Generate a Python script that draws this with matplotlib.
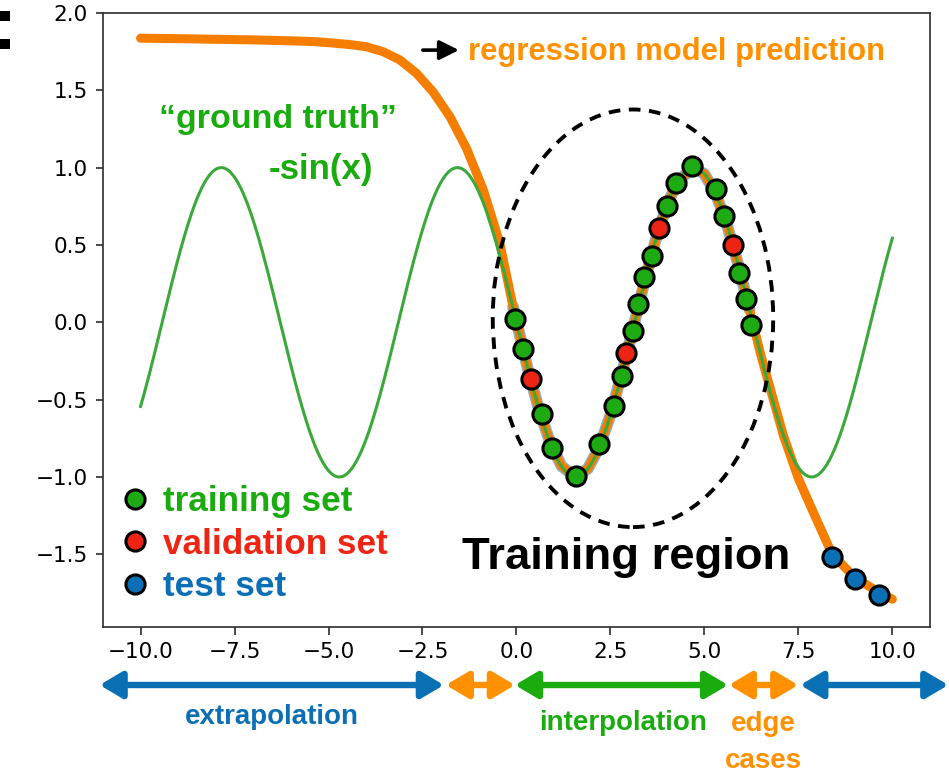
import numpy as np
import matplotlib.pyplot as plt
from matplotlib.lines import Line2D
from matplotlib.patches import Ellipse, Rectangle

# model prediction
pred_x = [-10.0, -9.0, -8.0, -7.0, -6.0, -5.4, -4.9, -4.4, -4.0, -3.55, -3.1, -2.66,
          -2.22, -1.77, -1.33, -0.88, -0.44, -0.09, 0.3, 0.6, 0.9, 1.2, 1.57, 1.9, 2.2,
          2.5, 2.8, 3.1, 3.4, 3.7, 4.0, 4.3, 4.71, 5.0, 5.3, 5.6, 5.9, 6.2, 6.5,
          6.8, 7.1, 7.5, 7.9, 8.4, 9.0, 9.6, 10.0]
pred_y = [1.837, 1.834, 1.830, 1.826, 1.820, 1.815, 1.806, 1.795, 1.782, 1.750, 1.696, 1.610,
          1.490, 1.330, 1.125, 0.855, 0.510, 0.100, -0.300, -0.565, -0.780, -0.930, -1.000, -0.946, -0.810,
          -0.600, -0.335, -0.040, 0.255, 0.530, 0.757, 0.916, 1.000, 0.959, 0.832, 0.631, 0.374, 0.083, -0.210,
          -0.470, -0.730, -1.010, -1.230, -1.500, -1.650, -1.740, -1.790]

# sampled points
train_x = [-0.04, 0.165, 0.67, 0.94, 1.58, 2.2, 2.6, 2.8, 3.09, 3.23, 3.40, 3.6,
           4.0, 4.25, 4.68, 5.31, 5.53, 5.93, 6.10, 6.25]
train_y = [0.02, -0.17, -0.595, -0.81, -0.994, -0.79, -0.54, -0.35, -0.056, 0.12, 0.29, 0.43,
           0.75, 0.90, 1.01, 0.86, 0.69, 0.32, 0.15, -0.015]
val_x = [0.378, 2.92, 3.79, 5.75]
val_y = [-0.364, -0.20, 0.61, 0.50]
test_x = [8.39, 9.01, 9.65]
test_y = [-1.516, -1.66, -1.76]

# ranges marked below the x axis
span_edges = [(-11.09, -1.93), (-1.88, -0.04), (-0.04, 5.63), (5.65, 7.50), (7.55, 11.49)]
span_colors = ['#0a70b4', '#ff9100', '#1aab0f', '#ff9100', '#0a70b4']

c_green = '#1aab0f'
c_red = '#ee2414'
c_blue = '#0b6fb5'
c_orange = '#ff9100'
bold = dict(family='Liberation Sans', weight='bold')

fig = plt.figure(figsize=(9.49, 7.73), dpi=100)
ax = fig.add_axes([0.1085, 0.1889, 0.8714, 0.7943])

# ground truth -sin(x)
gx = np.linspace(-10, 10, 600)
gy = -np.sin(gx)

pred_x = np.array(pred_x)
pred_y = np.array(pred_y)
inside = (pred_x >= -0.1) & (pred_x <= 6.3)
ax.plot(pred_x[inside], pred_y[inside], color='#1f77b4', lw=8.5, alpha=0.55,
        solid_capstyle='round', zorder=1)
ax.plot(pred_x, pred_y, color='#f57d00', lw=6.5, solid_capstyle='round',
        solid_joinstyle='round', zorder=2)
ax.plot(gx, gy, color='#3aa83a', lw=2.2, zorder=3)

ax.add_patch(Ellipse((3.10, 0.026), 7.46, 2.70, fill=False, ec='k', lw=2.8,
                     ls=(0, (3, 2.2)), zorder=4))

mk = dict(ls='none', marker='o', ms=13.8, mec='k', mew=2.2, zorder=5)
ax.plot(train_x, train_y, mfc='#1eaa12', **mk)
ax.plot(val_x, val_y, mfc='#ec2416', **mk)
ax.plot(test_x, test_y, mfc='#0b6fb5', **mk)

ax.set_xlim(-11, 11)
ax.set_ylim(-1.97, 2.0)
ax.set_xticks([-10, -7.5, -5, -2.5, 0, 2.5, 5, 7.5, 10])
ax.set_yticks([-1.5, -1.0, -0.5, 0.0, 0.5, 1.0, 1.5, 2.0])
ax.tick_params(labelsize=15.5, length=5.4, width=1.24, pad=5.4, color='#333333')
for s in ax.spines.values():
    s.set_linewidth(1.24)
    s.set_color('#333333')

# annotations inside the plot
ax.text(-6.35, 1.255, '\u201cground truth\u201d', color=c_green, fontsize=24.5,
        ha='center', va='baseline', **bold)
ax.text(-5.2, 0.925, '-sin(x)', color=c_green, fontsize=25,
        ha='center', va='baseline', **bold)
ax.annotate('', xy=(-1.53, 1.76), xytext=(-2.49, 1.76),
            arrowprops=dict(arrowstyle='-|>,head_length=0.9,head_width=0.45', lw=2.6,
                            color='k', shrinkA=0, shrinkB=0, mutation_scale=13))
ax.text(-1.29, 1.695, 'regression model prediction', color=c_orange, fontsize=22.3,
        ha='left', va='baseline', **bold)
ax.text(-1.45, -1.598, 'Training region', color='k', fontsize=32.7,
        ha='left', va='baseline', **bold)

handles = [Line2D([], [], ls='none', marker='o', ms=13.8, mec='k', mew=2.2, mfc=c)
           for c in ['#1eaa12', '#ec2416', '#0b6fb5']]
leg = ax.legend(handles, ['training set', 'validation set', 'test set'],
                loc='lower left', bbox_to_anchor=(0.024, 0.039), frameon=False,
                prop=dict(size=25.3, **bold), handlelength=0.7, handletextpad=0.43,
                labelspacing=0.27, borderpad=0, borderaxespad=0)
for t, c in zip(leg.get_texts(), [c_green, c_red, c_blue]):
    t.set_color(c)

# ranges below the axis
xt = ax.get_xaxis_transform()
for (a, b), c in zip(span_edges, span_colors):
    ax.annotate('', xy=(b, -0.0945), xytext=(a, -0.0945), xycoords=xt, textcoords=xt,
                annotation_clip=False,
                arrowprops=dict(arrowstyle='<|-|>,head_length=1.35,head_width=0.8', lw=4.6,
                                color=c, shrinkA=0, shrinkB=0, mutation_scale=10))
ax.text(-6.51, -0.158, 'extrapolation', transform=xt, color=c_blue, fontsize=20,
        ha='center', va='baseline', **bold)
ax.text(2.84, -0.168, 'interpolation', transform=xt, color=c_green, fontsize=20,
        ha='center', va='baseline', **bold)
ax.text(6.56, -0.170, 'edge', transform=xt, color=c_orange, fontsize=20,
        ha='center', va='baseline', **bold)
ax.text(6.56, -0.2296, 'cases', transform=xt, color=c_orange, fontsize=20,
        ha='center', va='baseline', **bold)

# colon mark at the left edge
for top in (11, 39):
    fig.add_artist(Rectangle((0, 1 - (top + 9.5) / 773), 9.5 / 949, 9.5 / 773,
                             transform=fig.transFigure, color='k', lw=0))

fig.savefig('out.png', dpi=100)
